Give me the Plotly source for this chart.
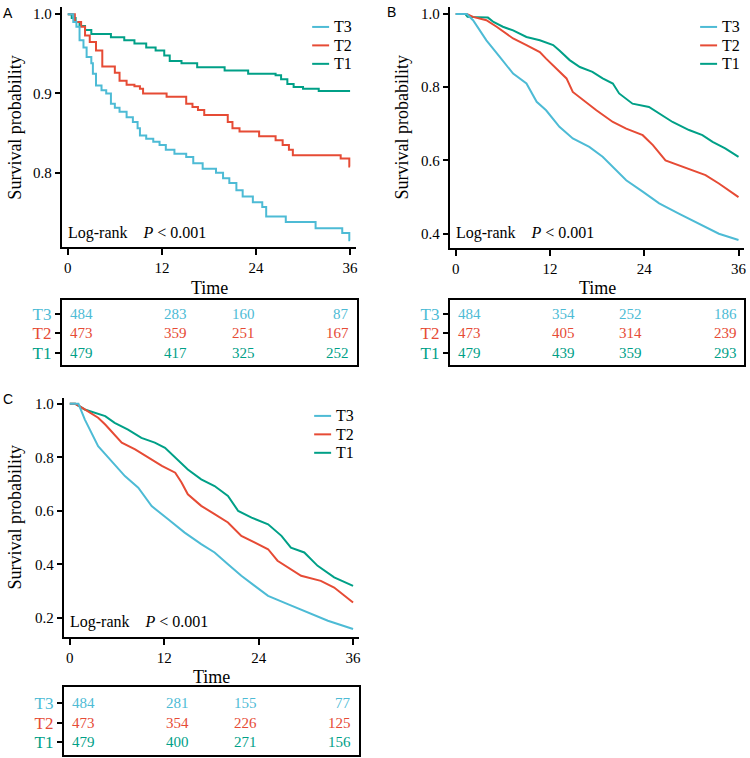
import plotly.graph_objects as go

W, H = 750, 758

# ---------------- data ----------------
groups = ["T3", "T2", "T1"]
time_ticks = [0, 12, 24, 36]

# Panel A
A_T1_t = [0, 0.5, 1.0, 1.5, 2.2, 3.0, 5.5, 7.2, 8.5, 10.0, 11.2, 12.3, 13.0, 14.5, 16.5, 20.0, 23.0, 26.5, 27.2, 28.0, 28.8, 30.0, 32.0, 36.0]
A_T1_s = [1.0, 0.995, 0.99, 0.985, 0.98, 0.975, 0.971, 0.967, 0.963, 0.958, 0.954, 0.948, 0.941, 0.938, 0.933, 0.929, 0.925, 0.923, 0.918, 0.912, 0.908, 0.906, 0.903, 0.903]
A_T2_t = [0, 0.9, 1.7, 2.2, 2.8, 3.6, 4.4, 6.0, 6.6, 7.5, 8.5, 9.2, 9.6, 12.6, 15.1, 15.9, 16.6, 17.4, 20.4, 21.0, 21.9, 24.4, 26.5, 27.4, 28.2, 28.7, 34.8, 35.9, 36.0]
A_T2_s = [1.0, 0.99, 0.984, 0.973, 0.965, 0.954, 0.934, 0.926, 0.916, 0.911, 0.909, 0.906, 0.9, 0.896, 0.887, 0.883, 0.879, 0.873, 0.864, 0.856, 0.852, 0.846, 0.841, 0.835, 0.829, 0.822, 0.818, 0.808, 0.808]
A_T3_t = [0, 0.7, 1.1, 1.5, 2.0, 2.4, 3.0, 3.2, 3.6, 4.3, 4.9, 5.5, 6.0, 6.6, 7.5, 8.3, 8.9, 9.2, 10.0, 10.9, 11.7, 12.5, 13.6, 15.1, 16.0, 17.2, 18.9, 19.8, 20.6, 21.5, 22.3, 23.6, 24.8, 25.3, 27.8, 31.6, 35.0, 35.9, 36.0]
A_T3_s = [1.0, 0.99, 0.984, 0.967, 0.958, 0.946, 0.938, 0.925, 0.91, 0.904, 0.9, 0.887, 0.882, 0.877, 0.87, 0.864, 0.856, 0.847, 0.843, 0.839, 0.835, 0.829, 0.824, 0.82, 0.812, 0.805, 0.8, 0.793, 0.787, 0.778, 0.77, 0.763, 0.757, 0.745, 0.738, 0.73, 0.724, 0.715, 0.715]
A_risk_T3 = [484, 283, 160, 87]
A_risk_T2 = [473, 359, 251, 167]
A_risk_T1 = [479, 417, 325, 252]

# Panel B
B_T1_t = [0, 1.2, 1.5, 4.1, 4.8, 6.0, 7.3, 9.0, 10.7, 12.4, 13.2, 14.5, 15.8, 17.4, 18.7, 20.0, 20.8, 22.5, 24.6, 25.9, 27.6, 29.7, 31.4, 32.7, 34.3, 36.0]
B_T1_s = [1.0, 1.0, 0.992, 0.99, 0.978, 0.965, 0.955, 0.937, 0.928, 0.915, 0.9, 0.874, 0.855, 0.842, 0.824, 0.81, 0.783, 0.755, 0.746, 0.728, 0.705, 0.683, 0.669, 0.651, 0.633, 0.61]
B_T2_t = [0, 1.4, 2.2, 3.9, 5.2, 7.3, 9.0, 10.7, 11.5, 12.8, 14.1, 14.9, 16.2, 17.9, 20.0, 21.7, 23.8, 25.1, 26.7, 28.4, 30.1, 31.8, 33.5, 36.0]
B_T2_s = [1.0, 1.0, 0.992, 0.983, 0.965, 0.933, 0.915, 0.896, 0.878, 0.851, 0.824, 0.787, 0.765, 0.737, 0.705, 0.687, 0.669, 0.642, 0.6, 0.587, 0.574, 0.56, 0.537, 0.5]
B_T3_t = [0, 1.4, 2.2, 3.9, 5.6, 7.3, 9.0, 10.3, 11.5, 13.2, 14.9, 17.0, 18.7, 20.0, 21.7, 23.8, 25.9, 28.4, 31.0, 33.5, 36.0]
B_T3_s = [1.0, 1.0, 0.983, 0.928, 0.883, 0.837, 0.81, 0.76, 0.737, 0.692, 0.66, 0.637, 0.61, 0.583, 0.546, 0.515, 0.483, 0.455, 0.428, 0.4, 0.383]
B_risk_T3 = [484, 354, 252, 186]
B_risk_T2 = [473, 405, 314, 239]
B_risk_T1 = [479, 439, 359, 293]

# Panel C
C_T1_t = [0, 0.7, 1.9, 3.2, 4.5, 5.7, 7.4, 9.1, 10.8, 12.1, 13.4, 15.0, 16.7, 18.4, 20.1, 21.4, 23.1, 25.2, 26.9, 28.1, 29.8, 31.5, 33.6, 36.0]
C_T1_s = [1.0, 1.0, 0.979, 0.966, 0.954, 0.929, 0.904, 0.873, 0.855, 0.836, 0.799, 0.755, 0.718, 0.693, 0.656, 0.6, 0.575, 0.55, 0.507, 0.463, 0.445, 0.395, 0.352, 0.32]
C_T2_t = [0, 0.7, 1.9, 3.6, 4.5, 5.3, 6.6, 8.3, 10.0, 11.7, 13.4, 14.2, 15.0, 16.7, 18.4, 20.1, 21.8, 23.5, 25.2, 26.4, 28.1, 29.4, 31.9, 33.6, 36.0]
C_T2_s = [1.0, 1.0, 0.979, 0.948, 0.923, 0.898, 0.855, 0.83, 0.799, 0.768, 0.743, 0.706, 0.662, 0.619, 0.588, 0.557, 0.507, 0.482, 0.457, 0.414, 0.383, 0.358, 0.339, 0.314, 0.258]
C_T3_t = [0, 1.1, 1.9, 2.8, 3.6, 5.3, 7.0, 8.7, 10.4, 12.5, 14.6, 16.7, 18.4, 20.1, 21.8, 23.5, 25.2, 27.7, 30.3, 32.8, 36.0]
C_T3_s = [1.0, 1.0, 0.942, 0.892, 0.842, 0.786, 0.73, 0.687, 0.618, 0.569, 0.519, 0.476, 0.445, 0.401, 0.358, 0.32, 0.283, 0.252, 0.221, 0.19, 0.159]
C_risk_T3 = [484, 281, 155, 77]
C_risk_T2 = [473, 354, 226, 125]
C_risk_T1 = [479, 400, 271, 156]

A_yticks = [0.8, 0.9, 1.0]
B_yticks = [0.4, 0.6, 0.8, 1.0]
C_yticks = [0.2, 0.4, 0.6, 0.8, 1.0]

colors = {"T3": "#4DBBD5", "T2": "#E64B35", "T1": "#00A087"}
SERIF = "Liberation Serif"
SANS = "Liberation Sans"


def px(x):
    return x / W


def py(y):
    return 1 - y / H


fig = go.Figure()

panels = [
    dict(name="A", xa="x", ya="y", xt="x4", yt="y4",
         curves={"T3": (A_T3_t, A_T3_s), "T2": (A_T2_t, A_T2_s), "T1": (A_T1_t, A_T1_s)},
         risk={"T3": A_risk_T3, "T2": A_risk_T2, "T1": A_risk_T1}, shape="hv"),
    dict(name="B", xa="x2", ya="y2", xt="x5", yt="y5",
         curves={"T3": (B_T3_t, B_T3_s), "T2": (B_T2_t, B_T2_s), "T1": (B_T1_t, B_T1_s)},
         risk={"T3": B_risk_T3, "T2": B_risk_T2, "T1": B_risk_T1}, shape="linear"),
    dict(name="C", xa="x3", ya="y3", xt="x6", yt="y6",
         curves={"T3": (C_T3_t, C_T3_s), "T2": (C_T2_t, C_T2_s), "T1": (C_T1_t, C_T1_s)},
         risk={"T3": C_risk_T3, "T2": C_risk_T2, "T1": C_risk_T1}, shape="linear"),
]

row_pos = {"T1": 1, "T2": 2, "T3": 3}

for p in panels:
    for g in ["T1", "T2", "T3"]:
        t, s = p["curves"][g]
        fig.add_trace(go.Scatter(x=t, y=s, mode="lines", xaxis=p["xa"], yaxis=p["ya"],
                                 line=dict(color=colors[g], width=2, shape=p["shape"]),
                                 name=g, showlegend=False))
    # risk table numbers
    for g in groups:
        for i, tt in enumerate(time_ticks):
            fig.add_annotation(x=tt, y=row_pos[g], xref=p["xt"], yref=p["yt"],
                               text=str(p["risk"][g][i]), showarrow=False,
                               xanchor="left" if i < 2 else "right", yanchor="middle",
                               font=dict(family=SERIF, size=15, color=colors[g]))

# ---------------- layout geometry ----------------
layout_geom = {
    "A": dict(x0=62, x1=357, y0=5, y1=246, xr=[-0.76, 36.76], yr=[0.706, 1.009], yt=A_yticks,
              tx0=62, tx1=358, ty0=299, ty1=364, tyr=[0.38, 3.68]),
    "B": dict(x0=451, x1=746, y0=5, y1=247, xr=[-0.76, 36.7], yr=[0.36, 1.019], yt=B_yticks,
              tx0=451, tx1=746, ty0=299, ty1=364, tyr=[0.38, 3.68]),
    "C": dict(x0=64, x1=360, y0=397, y1=637, xr=[-0.76, 36.76], yr=[0.128, 1.022], yt=C_yticks,
              tx0=64, tx1=360, ty0=687, ty1=755, tyr=[0.34, 3.82]),
}

axis_font = dict(family=SERIF, size=15, color="black")
ax_updates = {}
for p in panels:
    g = layout_geom[p["name"]]
    xk = "xaxis" + p["xa"][1:]
    yk = "yaxis" + p["ya"][1:]
    xtk = "xaxis" + p["xt"][1:]
    ytk = "yaxis" + p["yt"][1:]
    ax_updates[xk] = dict(domain=[px(g["x0"]), px(g["x1"])], range=g["xr"], anchor=p["ya"],
                          tickvals=time_ticks, ticktext=[str(v) for v in time_ticks],
                          ticks="outside", ticklen=6, tickwidth=2, tickcolor="black",
                          showline=True, linecolor="black", linewidth=2,
                          showgrid=False, zeroline=False, tickfont=axis_font, fixedrange=True)
    ax_updates[yk] = dict(domain=[py(g["y1"]), py(g["y0"])], range=g["yr"], anchor=p["xa"],
                          tickvals=g["yt"], ticktext=["%.1f" % v for v in g["yt"]],
                          ticks="outside", ticklen=5, tickwidth=2, tickcolor="black",
                          showline=True, linecolor="black", linewidth=2,
                          showgrid=False, zeroline=False, tickfont=axis_font, fixedrange=True)
    ax_updates[xtk] = dict(domain=[px(g["tx0"]), px(g["tx1"])], range=g["xr"], anchor=p["yt"],
                           showticklabels=False, ticks="", showline=True, mirror=True,
                           linecolor="black", linewidth=2, showgrid=False, zeroline=False, fixedrange=True)
    ax_updates[ytk] = dict(domain=[py(g["ty1"]), py(g["ty0"])], range=g["tyr"], anchor=p["xt"],
                           tickvals=[row_pos[k] for k in groups],
                           ticktext=["<span style='color:%s'>%s</span>" % (colors[k], k) for k in groups],
                           ticks="outside", ticklen=5, tickwidth=2, tickcolor="black",
                           showline=True, mirror=True, linecolor="black", linewidth=2,
                           showgrid=False, zeroline=False,
                           tickfont=dict(family=SERIF, size=17, color="black"), fixedrange=True)

fig.update_layout(**ax_updates)


# ---------------- text annotations ----------------
def ann(x, y, text, size=15, family=SERIF, xanchor="center", angle=0, color="black"):
    fig.add_annotation(x=px(x), y=py(y), xref="paper", yref="paper", text=text, showarrow=False,
                       xanchor=xanchor, yanchor="middle", textangle=angle,
                       font=dict(family=family, size=size, color=color))


# panel labels
ann(8, 11, "A", size=14, family=SANS)
ann(393, 10, "B", size=14, family=SANS)
ann(8, 398, "C", size=14, family=SANS)

# axis titles
ann(15, 126, "Survival probability", size=18, angle=-90)
ann(403, 126, "Survival probability", size=18, angle=-90)
ann(15, 517, "Survival probability", size=18, angle=-90)
ann(210, 287, "Time", size=18)
ann(599, 287, "Time", size=18)
ann(212, 677, "Time", size=18)

# log-rank
lr = "Log-rank &nbsp;&nbsp;&nbsp;<i>P</i> &lt; 0.001"
ann(66, 232, lr, size=16, xanchor="left")
ann(455, 232, lr, size=16, xanchor="left")
ann(68, 622, lr, size=16, xanchor="left")

# legends (manual key)
legend_pos = [(313, 25), (702, 25), (315, 415)]
for (lx, ly) in legend_pos:
    for i, gname in enumerate(groups):
        yy = ly + i * 18.5
        fig.add_shape(type="line", xref="paper", yref="paper",
                      x0=px(lx), x1=px(lx + 17), y0=py(yy), y1=py(yy),
                      line=dict(color=colors[gname], width=2))
        ann(lx + 20, yy, gname, size=16, xanchor="left")

fig.update_layout(width=W, height=H, autosize=False,
                  margin=dict(l=0, r=0, t=0, b=0),
                  paper_bgcolor="white", plot_bgcolor="white",
                  showlegend=False)

fig.write_html("out.html", config={"displayModeBar": False},
               post_script="document.body.style.margin='0';document.body.style.padding='0';"
                           "document.body.style.overflow='hidden';")
